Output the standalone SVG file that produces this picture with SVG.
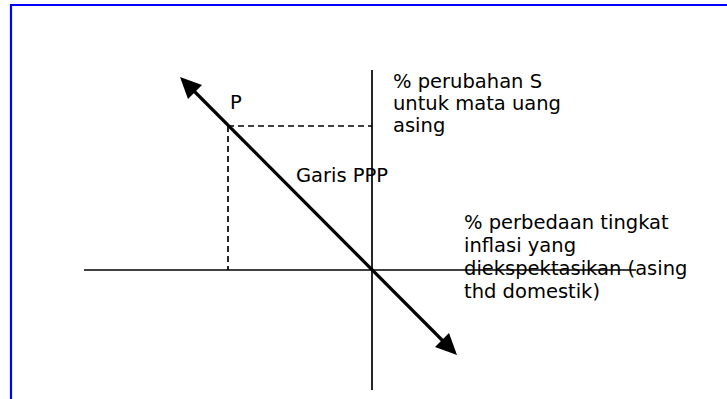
<svg xmlns="http://www.w3.org/2000/svg" width="727" height="399" viewBox="0 0 727 399">
<style>
.lbl{font-family:"DejaVu Sans",Verdana,sans-serif;font-size:19.5px;fill:#000}
.axis{stroke:#000;stroke-width:1.7;fill:none}
.dash{stroke:#000;stroke-width:1.7;stroke-dasharray:6 4;fill:none}
.ppp{stroke:#000;stroke-width:3.2;fill:none}
.head{fill:#000}
</style>
<rect width="727" height="399" fill="#fff"/>
<g id="frame">
<path d="M11 399 V5 H727" stroke="#0000ff" stroke-width="2.2" fill="none"/>
</g>
<g id="connectors">
<line class="axis" x1="372" y1="70" x2="372" y2="390"/>
<line class="axis" x1="84" y1="270" x2="636" y2="270"/>
<line class="dash" x1="228" y1="126" x2="372" y2="126"/>
<line class="dash" x1="228" y1="126" x2="228" y2="270"/>
<line class="ppp" x1="190" y1="87" x2="447" y2="345"/>
<polygon class="head" points="180,77 202,85 188,99"/>
<polygon class="head" points="457,355 449,333 435,347"/>
</g>
<g id="node-P"><text class="lbl" x="230" y="109">P</text></g>
<g id="node-garis"><text class="lbl" x="296" y="182">Garis PPP</text></g>
<g id="node-yaxis">
<text class="lbl" x="393" y="88">% perubahan S</text>
<text class="lbl" x="393" y="110">untuk mata uang</text>
<text class="lbl" x="393" y="132">asing</text>
</g>
<g id="node-xaxis">
<text class="lbl" x="464" y="229">% perbedaan tingkat</text>
<text class="lbl" x="464" y="252">inflasi yang</text>
<text class="lbl" x="464" y="275">diekspektasikan (asing</text>
<text class="lbl" x="464" y="298">thd domestik)</text>
</g>
</svg>
